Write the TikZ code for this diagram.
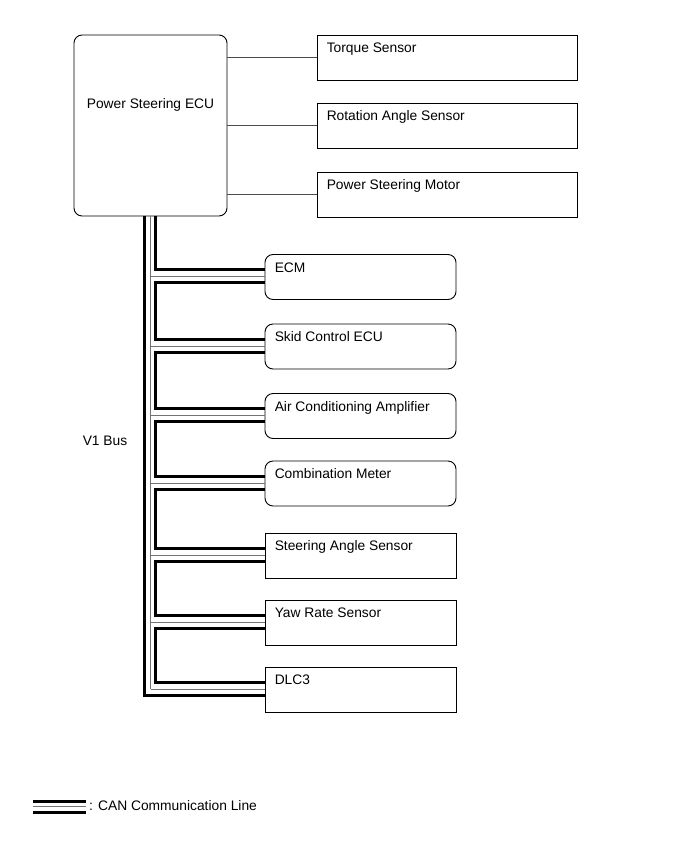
\documentclass[tikz,border=0pt]{standalone}
\usepackage{fontspec}
\setmainfont{Liberation Sans}
\usepackage{tikz}
\usetikzlibrary{calc, positioning}

\begin{document}
\begin{tikzpicture}[x=1pt, y=-1pt, font=\fontsize{13.8}{16}\selectfont]
    \tikzset{
        unitbox/.style={draw, line width=0.9pt, inner sep=0pt},
        ecubox/.style={unitbox, rounded corners=8pt},
        sensorbox/.style={unitbox, minimum width=260pt, minimum height=45pt},
        busbox/.style={unitbox, minimum width=191pt, minimum height=45pt},
        boxtext/.style={anchor=north west, inner sep=0pt, text height=10pt, text depth=3pt, xshift=10pt, yshift=-8pt},
        wire/.style={line width=0.8pt, black!70},
        canthick/.style={line width=3pt},
        canthin/.style={line width=0.8pt, black!55}
    }
    \useasboundingbox (0,0) rectangle (691,854);

    % ECU and the sensors wired to it
    \node[ecubox, minimum width=153pt, minimum height=181pt,
          label={[yshift=21pt]center:Power Steering ECU}] (ecu) at (150.5,125.5) {};

    \node[sensorbox, label={[boxtext]north west:Torque Sensor}] (torque) at (447,57.5) {};
    \node[sensorbox, label={[boxtext]north west:Rotation Angle Sensor}] (rotation) at (447,125.5) {};
    \node[sensorbox, label={[boxtext]north west:Power Steering Motor}] (motor) at (447,194.5) {};

    \draw[wire] (ecu.east |- torque.west) -- (torque.west);
    \draw[wire] (ecu.east |- rotation.west) -- (rotation.west);
    \draw[wire] (ecu.east |- motor.west) -- (motor.west);

    % units on the V1 bus
    \node[busbox, rounded corners=8pt, label={[boxtext]north west:ECM}] (ecm) at (360.5,277) {};
    \node[busbox, rounded corners=8pt, label={[boxtext]north west:Skid Control ECU}] (skid) at (360.5,346.5) {};
    \node[busbox, rounded corners=8pt, label={[boxtext]north west:Air Conditioning Amplifier}] (aircon) at (360.5,416) {};
    \node[busbox, rounded corners=8pt, label={[boxtext]north west:Combination Meter}] (meter) at (360.5,483.5) {};
    \node[busbox, label={[boxtext]north west:Steering Angle Sensor}] (steer) at (360.5,555.5) {};
    \node[busbox, label={[boxtext]north west:Yaw Rate Sensor}] (yaw) at (360.5,622.5) {};
    \node[busbox, label={[boxtext]north west:DLC3}] (dlc) at (360.5,689.5) {};

    \node (v1bus) at (105,441) {V1 Bus};

    % CAN lines
    \coordinate (busout) at (144.5,216);
    \coordinate (busmid) at (150.5,216);
    \coordinate (busin) at (155.5,216);

    \foreach \unit in {ecm, skid, aircon, meter, steer, yaw, dlc} {
        \coordinate (\unit-in) at ([yshift=-15.5pt]\unit.north west);
        \coordinate (\unit-tap) at ([yshift=-22.5pt]\unit.north west);
        \coordinate (\unit-out) at ([yshift=-28.5pt]\unit.north west);
        \draw[canthin] (busmid |- \unit-tap) -- (\unit-tap);
    }

    \draw[canthin] (busmid) -- (busmid |- dlc-tap);
    \draw[canthick] (busout) |- (dlc-out);
    \draw[canthick] (busin) |- (ecm-in);
    \foreach \cur/\nxt in {ecm/skid, skid/aircon, aircon/meter, meter/steer, steer/yaw, yaw/dlc} {
        \draw[canthick] (\cur-out) -- (\cur-out -| busin) |- (\nxt-in);
    }

    % legend
    \coordinate (leg-a) at (33,801);
    \coordinate (leg-b) at (86,801);
    \draw[canthick] (leg-a) -- (leg-b);
    \draw[canthin] ([yshift=-5.5pt]leg-a) -- ([yshift=-5.5pt]leg-b);
    \draw[canthick] ([yshift=-11pt]leg-a) -- ([yshift=-11pt]leg-b);
    \node[anchor=west, inner sep=0pt] (legtext) at (89,806) {: CAN Communication Line};
\end{tikzpicture}
\end{document}
